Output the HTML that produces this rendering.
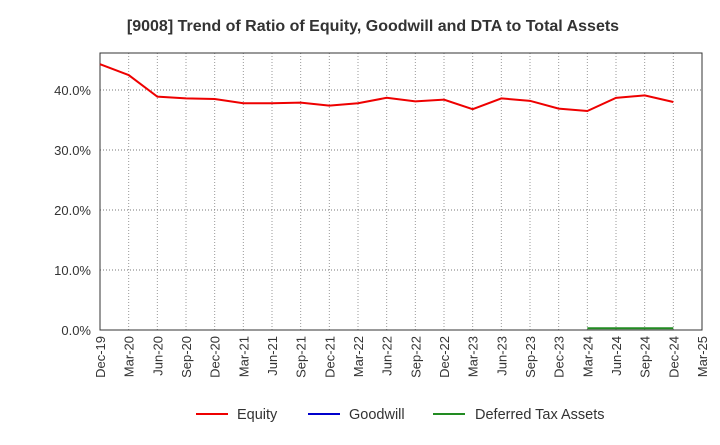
<!DOCTYPE html>
<html><head><meta charset="utf-8"><style>
body{margin:0;background:#fff;font-family:"Liberation Sans",sans-serif}
</style></head><body>
<svg id="c" width="720" height="440" xmlns="http://www.w3.org/2000/svg">
<text x="373" y="31" text-anchor="middle" font-size="16" font-weight="bold" fill="#333">[9008]  Trend of Ratio of Equity, Goodwill and DTA to Total Assets</text>
<g id="grid"></g><g id="axes"></g><g id="series"></g>
<g>
<line x1="196" y1="414" x2="228" y2="414" stroke="#e00" stroke-width="2"/><text x="237" y="419" font-size="14.5" fill="#333">Equity</text>
<line x1="308" y1="414" x2="340" y2="414" stroke="#00c" stroke-width="2"/><text x="349" y="419" font-size="14.5" fill="#333">Goodwill</text>
<line x1="433" y1="414" x2="465" y2="414" stroke="#228b22" stroke-width="2"/><text x="475" y="419" font-size="14.5" fill="#333">Deferred Tax Assets</text>
</g>
</svg>
<script>
const categories=["Dec-19","Mar-20","Jun-20","Sep-20","Dec-20","Mar-21","Jun-21","Sep-21","Dec-21","Mar-22","Jun-22","Sep-22","Dec-22","Mar-23","Jun-23","Sep-23","Dec-23","Mar-24","Jun-24","Sep-24","Dec-24","Mar-25"];
const equity=[44.3,42.5,38.9,38.6,38.5,37.8,37.8,37.9,37.4,37.8,38.7,38.1,38.4,36.8,38.6,38.2,36.9,36.5,38.7,39.1,38.0];
const dtaStart=17;
const dta=[0.3,0.3,0.3,0.3];
const yTicks=[0,10,20,30,40];
const yTickLabels=["0.0%","10.0%","20.0%","30.0%","40.0%"];
const L=100,R=702,T=53,B=330,yMax=46.17;
const ns="http://www.w3.org/2000/svg";
const xs=i=>L+i*(R-L)/(categories.length-1);
const ys=v=>B-v/yMax*(B-T);
function mk(t,a,p){const e=document.createElementNS(ns,t);for(const k in a)e.setAttribute(k,a[k]);p.appendChild(e);return e;}
const g=document.getElementById('grid'),ax=document.getElementById('axes'),s=document.getElementById('series');
categories.forEach((c,i)=>{
 const l=mk('line',{x1:xs(i),x2:xs(i),y1:T,y2:B,stroke:'#999','stroke-dasharray':'1,2','stroke-width':1},g);
 
 
 const t=mk('text',{transform:`translate(${xs(i)+5},${B+6}) rotate(-90)`,'text-anchor':'end','font-size':13,fill:'#333'},ax);
 t.textContent=c;
 
 
});
yTicks.forEach((v,i)=>{
 const l=mk('line',{x1:L,x2:R,y1:ys(v),y2:ys(v),stroke:'#777','stroke-dasharray':'1,2','stroke-width':1},g);
 
 
 const t=mk('text',{x:L-9,y:ys(v)+5,'text-anchor':'end','font-size':13,fill:'#333'},ax);
 t.textContent=yTickLabels[i];
 
 
});
const fr=mk('rect',{x:L,y:T,width:R-L,height:B-T,fill:'none',stroke:'#333','stroke-width':1},ax);


const pe=mk('polyline',{points:equity.map((v,i)=>xs(i)+','+ys(v)).join(' '),fill:'none',stroke:'#e00','stroke-width':2},s);


const pd=mk('polyline',{points:dta.map((v,i)=>xs(i+dtaStart)+','+ys(v)).join(' '),fill:'none',stroke:'#228b22','stroke-width':2},s);


</script>
</body></html>
